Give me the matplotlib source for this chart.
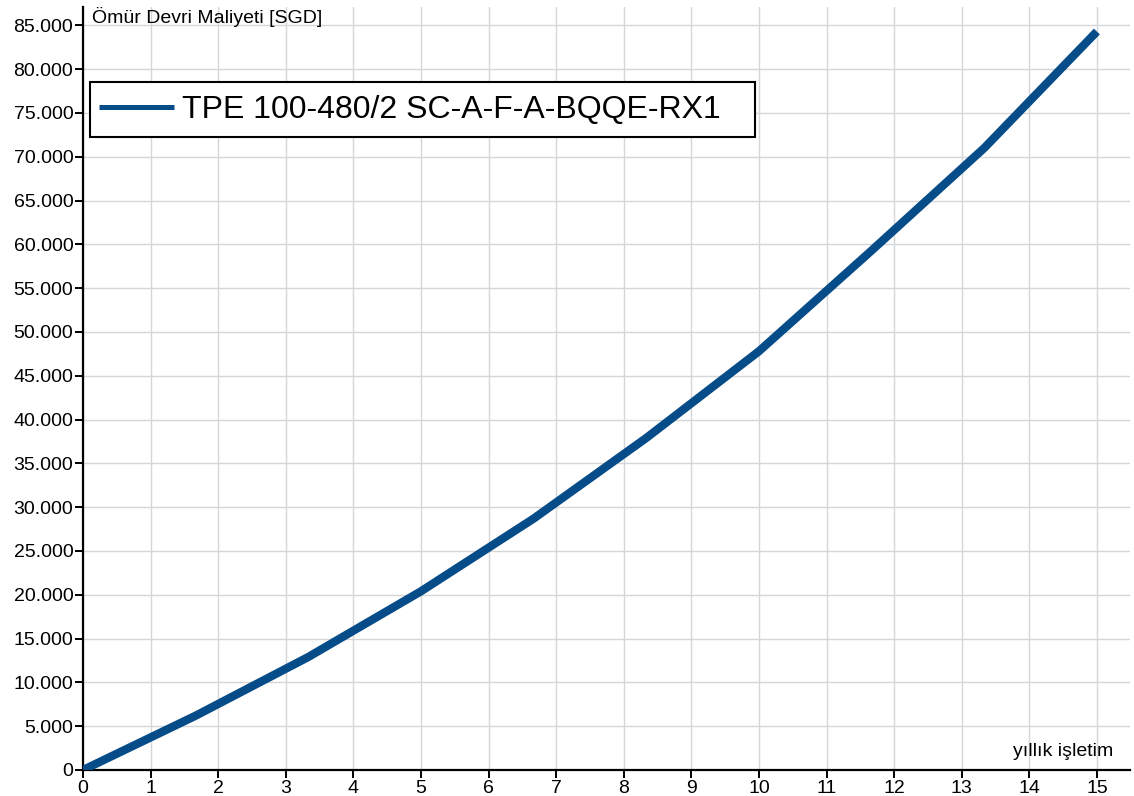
import matplotlib
matplotlib.use("Agg")
import matplotlib.pyplot as plt
from matplotlib.patches import Rectangle
from matplotlib.ticker import FuncFormatter, MultipleLocator

plt.rcParams['font.family'] = ['Liberation Sans', 'DejaVu Sans']

years = [0, 1.667, 3.333, 5, 6.667, 8.333, 10, 11.667, 13.333, 15]
cost = [0, 6200, 12900, 20400, 28700, 37900, 47800, 59300, 71000, 84300]
series_name = "TPE 100-480/2 SC-A-F-A-BQQE-RX1"
y_title = "Ömür Devri Maliyeti [SGD]"
x_title = "yıllık işletim"

W, H = 1134, 796
fig = plt.figure(figsize=(W / 100, H / 100), dpi=100)
left, right, top, bottom = 83, 1130, 7, 770
ax = fig.add_axes([left / W, 1 - bottom / H, (right - left) / W, (bottom - top) / H])

ax.plot(years, cost, color='#064c88', lw=6.0, solid_capstyle='butt', label=series_name, zorder=3)

ax.set_xlim(0, 15.49)
ax.set_ylim(0, 87100)
ax.xaxis.set_major_locator(MultipleLocator(1))
ax.yaxis.set_major_locator(MultipleLocator(5000))
ax.yaxis.set_major_formatter(FuncFormatter(lambda v, p: f"{int(v):,}".replace(",", ".")))

ax.grid(True, color='#d4d6d8', lw=1.0)
ax.set_axisbelow(True)
for s in ['top', 'right']:
    ax.spines[s].set_visible(False)
for s in ['left', 'bottom']:
    ax.spines[s].set_linewidth(1.6)
    ax.spines[s].set_color('black')
ax.tick_params(axis='both', direction='out', length=6, width=1.4, labelsize=14, colors='black', pad=1)

ax.text(0.009, 1.0 - 10 / 763, y_title, transform=ax.transAxes, fontsize=14, ha='left', va='center')
ax.text(0.984, 18 / 763, x_title, transform=ax.transAxes, fontsize=14, ha='right', va='center')

# legend box
box = Rectangle((90 / W, 1 - 137 / H), 665 / W, 55 / H, transform=fig.transFigure,
                facecolor='white', edgecolor='black', lw=1.5, zorder=5, clip_on=False)
ax.add_patch(box)
leg = ax.legend(loc='center left', bbox_to_anchor=(99 / W, 1 - 110 / H), bbox_transform=fig.transFigure,
                fontsize=23, frameon=False, handlelength=2.35, borderpad=0,
                handletextpad=0.25, borderaxespad=0)
leg.set_zorder(6)
for l in leg.get_lines():
    l.set_linewidth(3.6)

fig.savefig("out.png", dpi=100)
